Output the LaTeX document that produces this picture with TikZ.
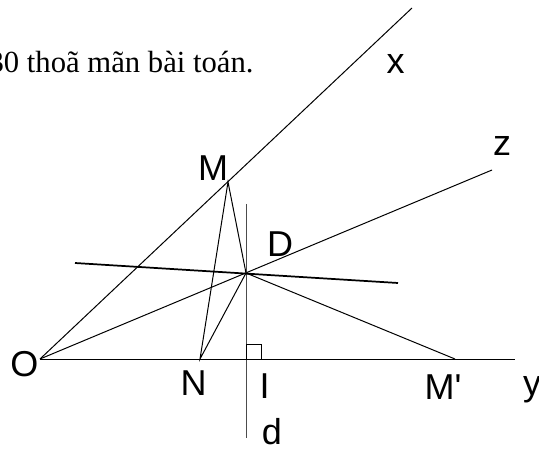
\documentclass[tikz,border=0pt]{standalone}
\usepackage{fontspec}
\setmainfont{Liberation Serif}
\newfontfamily\labelfont{Liberation Sans}

\begin{document}
\begin{tikzpicture}[x=0.75pt,y=-0.75pt,line width=0.75pt,
  lbl/.style={font=\labelfont\fontsize{27}{30}\selectfont,inner sep=0pt}]
  \clip (0,0) rectangle (539,449);
  % points
  \coordinate (O) at (40,359);
  \coordinate (M) at (228,182);
  \coordinate (D) at (246,273);
  \coordinate (N) at (200,359);
  \coordinate (I) at (246,359);
  \coordinate (Mp) at (455,359);
  \coordinate (X) at (412,8);
  \coordinate (Y) at (515,359);
  \coordinate (Z) at (492,170);
  \coordinate (dtop) at (246,204);
  \coordinate (dbot) at (246,438);
  \coordinate (L1) at (75,263);
  \coordinate (L2) at (398,283);
  % text line cut by the page edge
  \node[anchor=base east,inner sep=0pt,font=\fontsize{23}{27}\selectfont] (txt) at (254,73) {30 thoã mãn bài toán.};
  % rays and lines
  \draw (O) -- (X);
  \draw (O) -- (Y);
  \draw (O) -- (Z);
  \draw[black!70] (dtop) -- (dbot);
  \draw[line width=1.3pt] (L1) -- (L2);
  \draw (M) -- (N) -- (D) -- cycle;
  \draw (D) -- (Mp);
  \draw (I) rectangle ++(15,-15);
  % labels
  \node[lbl] (lO) at (24.5,364.5) {O};
  \node[lbl] (lM) at (213,168) {M};
  \node[lbl] (lD) at (280,244) {D};
  \node[lbl] (lN) at (193.5,383.5) {N};
  \node[lbl] (lI) at (264.5,386.5) {I};
  \node[lbl] (lMp) at (443,387) {M'};
  \node[lbl] (ly) at (532,390) {y};
  \node[lbl] (lx) at (395.5,64) {x};
  \node[lbl] (lz) at (502,146) {z};
  \node[lbl] (ld) at (272,432) {d};
\end{tikzpicture}
\end{document}
